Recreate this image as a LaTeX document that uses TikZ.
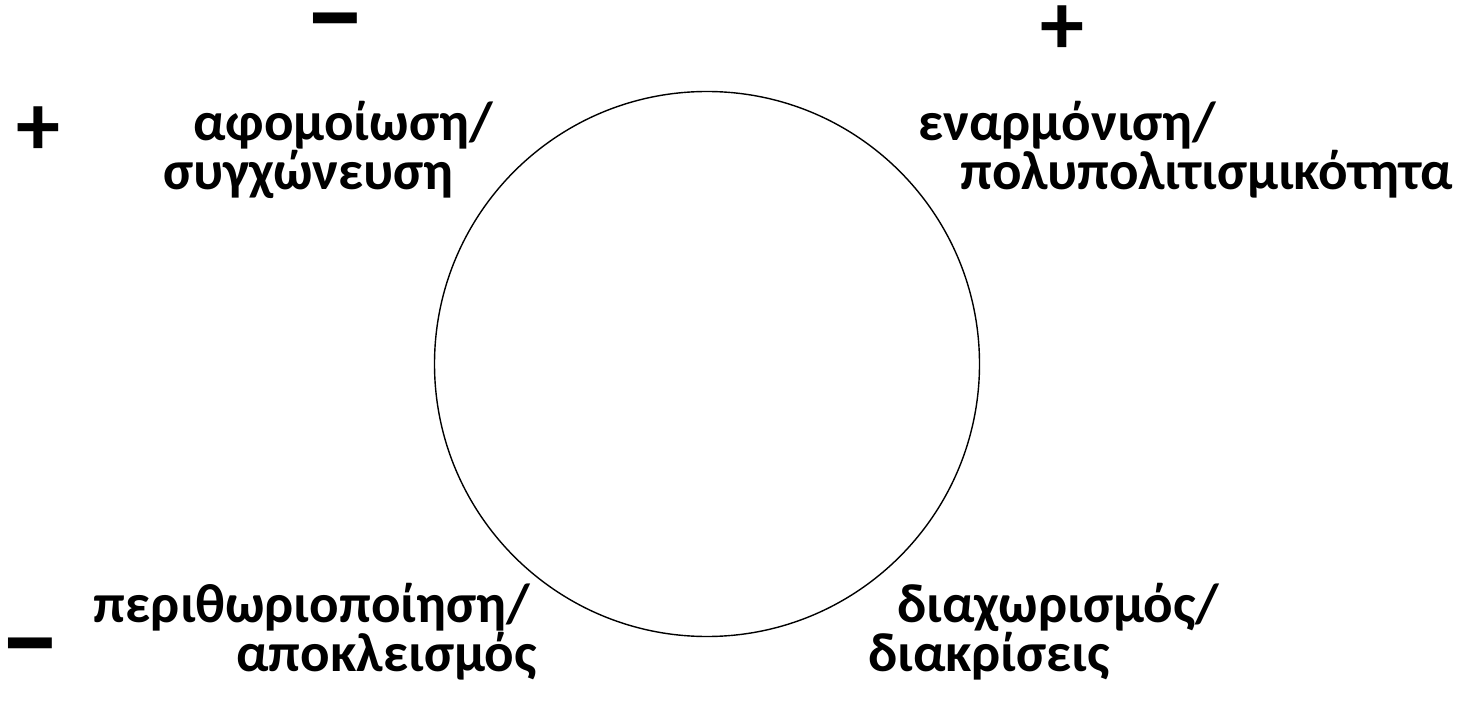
\documentclass[tikz,border=0pt]{standalone}
\usepackage{fontspec}
\setmainfont{Carlito}
\usepackage{tikz}
\usetikzlibrary{positioning}
\tikzset{
  acc-label/.style={font=\fontsize{55}{39}\selectfont\bfseries, inner sep=0pt},
  acc-plus/.style={font=\fontsize{88}{88}\selectfont\bfseries, inner sep=0pt},
  acc-minus/.style={font=\fontsize{124}{124}\selectfont\bfseries, inner sep=0pt},
  acc-circle/.style={draw=black, line width=1.4pt}
}
\begin{document}
\begin{tikzpicture}[x=1pt, y=-1pt]
  \useasboundingbox (0,0) rectangle (1480,708);
  \node[acc-circle, circle, minimum size=545pt] (cycle) at (707,364) {};
  % axis signs
  \node[acc-minus] (minustop) at (335,33) {–};
  \node[acc-plus] (plustop) at (1062,30) {+};
  \node[acc-plus] (plusleft) at (38,131) {+};
  \node[acc-minus] (minusleft) at (30,658) {–};
  % the four strategies
  \node[acc-label, align=left, anchor=north west] (assim) at (163,101)
    {\hspace*{30pt}αφομοίωση/\\συγχώνευση};
  \node[acc-label, align=left, anchor=north west] (integ) at (918,101)
    {εναρμόνιση/\\\hspace*{42pt}πολυπολιτισμικότητα};
  \node[acc-label, align=right, anchor=north east] (margin) at (537,583)
    {περιθωριοποίηση/\hspace*{7pt}\\αποκλεισμός};
  \node[acc-label, align=left, anchor=north west] (separ) at (868,583)
    {\hspace*{29pt}διαχωρισμός/\\διακρίσεις};
\end{tikzpicture}
\end{document}
